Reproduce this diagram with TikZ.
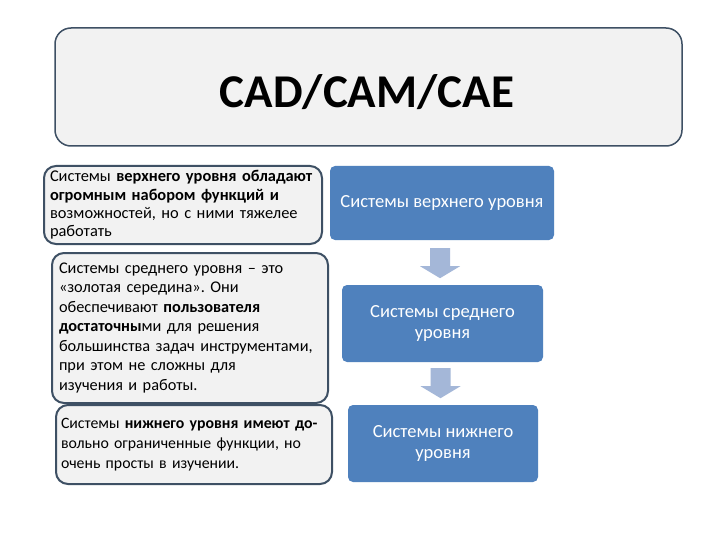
\documentclass[tikz,border=0pt]{standalone}
\usepackage{fontspec}
\setmainfont{Carlito}
\usetikzlibrary{calc}
\frenchspacing
\definecolor{boxblue}{RGB}{79,129,189}
\definecolor{arrowblue}{RGB}{164,183,216}
\definecolor{edgegray}{RGB}{62,80,100}
\definecolor{fillgray}{RGB}{242,242,242}
\tikzset{
  titlebox/.style={draw=edgegray, line width=1.5pt, fill=fillgray, rounded corners=16pt, minimum width=627pt, minimum height=118pt, inner sep=0pt},
  leftbox/.style={draw=edgegray, line width=2pt, fill=fillgray, rounded corners=12pt, align=left, anchor=center},
  bluebox/.style={fill=boxblue, rounded corners=5pt, text=white, align=center, inner sep=0pt, font=\fontsize{18.5}{21.5}\selectfont},
  downarrow/.style={fill=arrowblue, draw=none}
}
\begin{document}
\begin{tikzpicture}[x=1pt,y=-1pt]
\useasboundingbox (0,0) rectangle (720,540);
\fill[white] (0,0) rectangle (720,540);

\node[titlebox] (title) at (368.5,87) {};
\node (titletext) at (367,92) {\fontsize{47}{52}\selectfont\bfseries CAD/CAM/CAE};

\node[leftbox, minimum width=278pt, minimum height=78pt, text width=266pt, inner xsep=6pt, inner ysep=1pt, font=\fontsize{16.4}{18.4}\selectfont] (l1) at (183,205)
{Системы \textbf{верхнего уровня обладают}\\
\textbf{огромным набором функций и}\\
возможностей, но с ними тяжелее\\
работать};

\node[leftbox, minimum width=276pt, minimum height=150pt, text width=262pt, inner xsep=7pt, inner ysep=2pt, font=\fontsize{16.3}{19.5}\selectfont] (l2) at (190,328)
{Системы среднего уровня – это\\
«золотая середина». Они\\
обеспечивают \textbf{пользователя}\\
\textbf{достаточны}ми для решения\\
большинства задач инструментами,\\
при этом не сложны для\\
изучения и работы.};

\node[leftbox, minimum width=276pt, minimum height=79pt, text width=266pt, inner xsep=5pt, inner ysep=2pt, font=\fontsize{15.8}{20}\selectfont] (l3) at (194,444.5)
{Системы \textbf{нижнего уровня имеют до-}\\
вольно ограниченные функции, но\\
очень просты в изучении.};

\node[bluebox, minimum width=224pt, minimum height=74pt] (r1) at (442,203) {Системы верхнего уровня};
\node[bluebox, minimum width=201pt, minimum height=77pt] (r2) at (442.5,323.5) {Системы среднего\\уровня};
\node[bluebox, minimum width=190pt, minimum height=77pt] (r3) at (443,443.5) {Системы нижнего\\уровня};

\coordinate (a1) at ($(r1.south)+(-2,8)$);
\fill[downarrow] (a1) ++(-10,0) -- ++(20,0) -- ++(0,18) -- ++(10,0) -- ++(-20,12) -- ++(-20,-12) -- ++(10,0) -- cycle;
\coordinate (a2) at ($(r2.south)+(-2,6)$);
\fill[downarrow] (a2) ++(-10,0) -- ++(20,0) -- ++(0,18) -- ++(10,0) -- ++(-20,12) -- ++(-20,-12) -- ++(10,0) -- cycle;
\end{tikzpicture}
\end{document}
